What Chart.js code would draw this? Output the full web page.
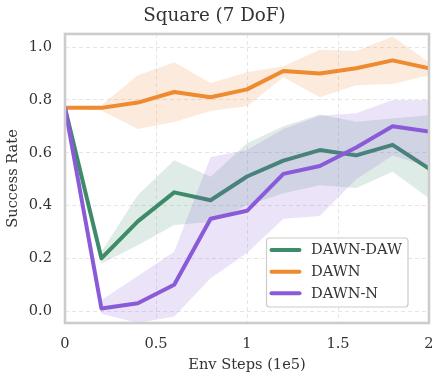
<!DOCTYPE html>
<html>
<head>
<meta charset="utf-8">
<script src="https://cdn.jsdelivr.net/npm/chart.js@4"></script>
<style>
  html, body { margin: 0; padding: 0; background: #ffffff; }
  #wrap { width: 432px; height: 374px; }
</style>
</head>
<body>
<div id="wrap"><canvas id="c" width="432" height="374"></canvas></div>
<script>
// ---- data ----
const steps = [0, 0.2, 0.4, 0.6, 0.8, 1.0, 1.2, 1.4, 1.6, 1.8, 2.0];
const seriesNames = ['DAWN-DAW', 'DAWN', 'DAWN-N'];

const dawnDaw     = [0.77, 0.20, 0.34, 0.45, 0.42, 0.51, 0.57, 0.61, 0.59, 0.63, 0.54];
const dawnDawLow  = [0.77, 0.18, 0.25, 0.326, 0.338, 0.40, 0.447, 0.477, 0.466, 0.528, 0.428];
const dawnDawHigh = [0.77, 0.225, 0.44, 0.572, 0.509, 0.636, 0.70, 0.745, 0.717, 0.73, 0.742];

const dawn     = [0.77, 0.77, 0.79, 0.83, 0.81, 0.84, 0.91, 0.90, 0.92, 0.95, 0.92];
const dawnLow  = [0.77, 0.76, 0.69, 0.716, 0.758, 0.776, 0.886, 0.81, 0.856, 0.86, 0.894];
const dawnHigh = [0.77, 0.78, 0.894, 0.943, 0.864, 0.905, 0.928, 0.99, 0.985, 1.04, 0.943];

const dawnN     = [0.77, 0.01, 0.03, 0.10, 0.35, 0.38, 0.52, 0.55, 0.62, 0.70, 0.68];
const dawnNLow  = [0.77, -0.01, -0.045, -0.02, 0.125, 0.22, 0.35, 0.36, 0.50, 0.59, 0.547];
const dawnNHigh = [0.77, 0.042, 0.133, 0.225, 0.584, 0.61, 0.69, 0.74, 0.75, 0.80, 0.80];

const xTicks = [0, 0.5, 1, 1.5, 2];
const yTicks = [0, 0.2, 0.4, 0.6, 0.8, 1.0];

// ---- styles ----
const FONT = "'DejaVu Serif', 'Liberation Serif', serif";
const TEXT = '#333333';
const colors = { 'DAWN-DAW': '#3d8b68', 'DAWN': '#ee8a2f', 'DAWN-N': '#8a5bd8' };
const bandAlpha = 0.17;

function rgba(hex, a) {
  const n = parseInt(hex.slice(1), 16);
  return `rgba(${(n >> 16) & 255},${(n >> 8) & 255},${n & 255},${a})`;
}
function pts(ys) { return steps.map((x, i) => ({ x: x, y: ys[i] })); }

const groups = [
  { name: 'DAWN-DAW', mean: dawnDaw, low: dawnDawLow, high: dawnDawHigh, lineOrder: 4, bandOrder: 5 },
  { name: 'DAWN',     mean: dawn,    low: dawnLow,    high: dawnHigh,    lineOrder: 2, bandOrder: 3 },
  { name: 'DAWN-N',   mean: dawnN,   low: dawnNLow,   high: dawnNHigh,   lineOrder: 0, bandOrder: 1 }
];

const datasets = [];
groups.forEach(g => {
  const lowIndex = datasets.length;
  datasets.push({
    label: g.name + ' low', data: pts(g.low), isBand: true,
    borderWidth: 0, pointRadius: 0, fill: false, order: g.bandOrder,
    borderColor: 'rgba(0,0,0,0)'
  });
  datasets.push({
    label: g.name + ' high', data: pts(g.high), isBand: true,
    borderWidth: 0, pointRadius: 0, order: g.bandOrder,
    borderColor: 'rgba(0,0,0,0)',
    backgroundColor: rgba(colors[g.name], bandAlpha),
    fill: lowIndex
  });
});
groups.forEach(g => {
  datasets.push({
    label: g.name, data: pts(g.mean), isLine: true,
    borderColor: colors[g.name], backgroundColor: colors[g.name],
    borderWidth: 4, pointRadius: 0, fill: false, tension: 0,
    borderJoinStyle: 'round', borderCapStyle: 'round',
    order: g.lineOrder
  });
});

const frameAndLegend = {
  id: 'frameAndLegend',
  afterDatasetsDraw(chart) {
    const ctx = chart.ctx;
    const a = chart.chartArea;
    ctx.save();
    // frame
    ctx.strokeStyle = '#cccccc';
    ctx.lineWidth = 2.6;
    ctx.strokeRect(a.left, a.top, a.right - a.left, a.bottom - a.top);
    // legend
    const bx = 266.5, by = 238, bw = 141.5, bh = 69, r = 3;
    ctx.beginPath();
    ctx.moveTo(bx + r, by);
    ctx.arcTo(bx + bw, by, bx + bw, by + bh, r);
    ctx.arcTo(bx + bw, by + bh, bx, by + bh, r);
    ctx.arcTo(bx, by + bh, bx, by, r);
    ctx.arcTo(bx, by, bx + bw, by, r);
    ctx.closePath();
    ctx.fillStyle = 'rgba(255,255,255,0.8)';
    ctx.fill();
    ctx.strokeStyle = '#cccccc';
    ctx.lineWidth = 1.2;
    ctx.stroke();
    const lineDs = chart.data.datasets.filter(d => d.isLine);
    const rowY = [250, 271.7, 293.3];
    ctx.font = '14.6px ' + FONT;
    ctx.textBaseline = 'middle';
    ctx.textAlign = 'left';
    lineDs.forEach((d, i) => {
      const y = rowY[i];
      ctx.beginPath();
      ctx.moveTo(271.5, y);
      ctx.lineTo(299.5, y);
      ctx.strokeStyle = d.borderColor;
      ctx.lineWidth = 4;
      ctx.lineCap = 'round';
      ctx.stroke();
      ctx.fillStyle = TEXT;
      ctx.fillText(d.label, 311, y + 0.5);
    });
    ctx.restore();
  }
};

new Chart(document.getElementById('c'), {
  type: 'line',
  data: { datasets: datasets },
  plugins: [frameAndLegend],
  options: {
    responsive: false,
    animation: false,
    devicePixelRatio: 1,
    layout: { padding: { left: 0, right: 3, top: 0, bottom: 0 } },
    plugins: {
      legend: { display: false },
      tooltip: { enabled: false },
      title: {
        display: true,
        text: 'Square (7 DoF)',
        color: TEXT,
        font: { family: FONT, size: 18.3, weight: 'normal', lineHeight: 1.2 },
        padding: { top: 5, bottom: 7 }
      }
    },
    scales: {
      x: {
        type: 'linear',
        min: 0, max: 2,
        afterBuildTicks: s => { s.ticks = xTicks.map(v => ({ value: v })); },
        afterFit: s => { s.height = 51; s.paddingLeft = 0; s.paddingRight = 0; },
        ticks: {
          color: TEXT, font: { family: FONT, size: 14.6 }, padding: 12,
          maxRotation: 0, autoSkip: false,
          callback: v => String(v)
        },
        grid: { color: '#e3e3e3', lineWidth: 0.9, drawTicks: false },
        border: { display: false, dash: [4, 3] },
        title: {
          display: true, text: 'Env Steps (1e5)', color: TEXT,
          font: { family: FONT, size: 14.6 }, padding: { top: 0, bottom: 0 }
        }
      },
      y: {
        type: 'linear',
        min: -0.045, max: 1.05,
        afterBuildTicks: s => { s.ticks = yTicks.map(v => ({ value: v })); },
        afterFit: s => { s.width = 65; s.paddingTop = 0; s.paddingBottom = 0; },
        ticks: {
          color: TEXT, font: { family: FONT, size: 14.6 }, padding: 13,
          autoSkip: false,
          callback: v => Number(v).toFixed(1)
        },
        grid: { color: '#e3e3e3', lineWidth: 0.9, drawTicks: false },
        border: { display: false, dash: [4, 3] },
        title: {
          display: true, text: 'Success Rate', color: TEXT,
          font: { family: FONT, size: 14.6 }, padding: { top: 4, bottom: 0 }
        }
      }
    }
  }
});
</script>
</body>
</html>
